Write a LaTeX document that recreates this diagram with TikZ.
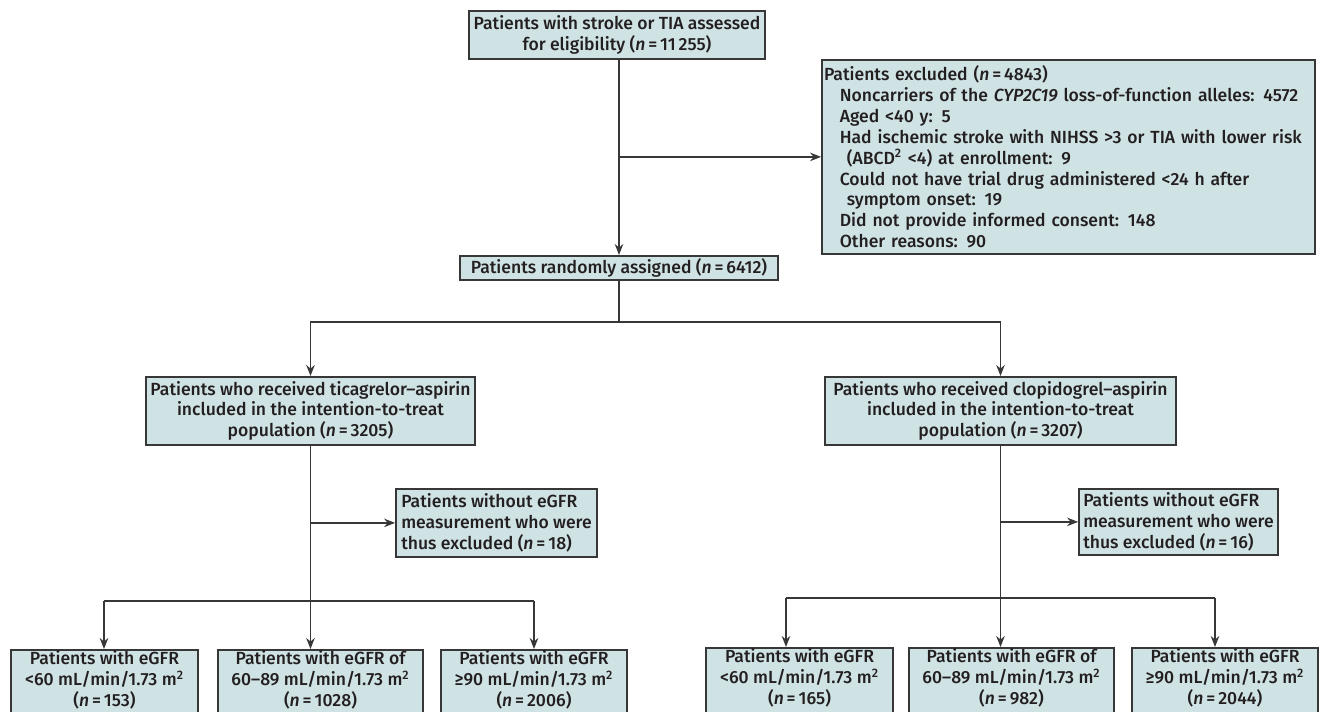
\documentclass[tikz,border=0pt]{standalone}
\usepackage{fontspec}
\setmainfont{Fira Sans}[UprightFont={* Medium}, ItalicFont={* Medium Italic}]
\usetikzlibrary{arrows.meta}
\newlength\pxu
\setlength\pxu{0.02cm}
\definecolor{boxfill}{RGB}{207,226,228}
\definecolor{linegray}{RGB}{55,55,55}
\definecolor{txtgray}{RGB}{35,31,32}
\tikzset{
  flowbox/.style={draw=linegray, fill=boxfill, line width=1pt, anchor=north,
    inner xsep=2\pxu, inner ysep=1\pxu, align=center, text=txtgray,
    font=\fontsize{10}{11.9}\selectfont},
  leftbox/.style={flowbox, align=left},
  grpbox/.style={flowbox, inner ysep=1\pxu, text depth=30\pxu},
  link/.style={draw=linegray, line width=1pt},
  arr/.style={link, -{Stealth[length=0.22cm, width=0.17cm]}}
}
\newcommand{\nn}{\textit{n}\,=\,}
\begin{document}
\begin{tikzpicture}[x=0.02cm, y=-0.02cm]
    \useasboundingbox (0,0) rectangle (1320,711);
    \clip (0,0) rectangle (1320,711);

    % Screening and exclusion
    \node[flowbox, minimum width=296\pxu, minimum height=48\pxu] (screen) at (617,10)
        {Patients with stroke or TIA assessed\\ for eligibility (\nn 11\,255)};
    \node[leftbox, text width=489\pxu, minimum height=194\pxu] (excl) at (1068.5,59)
        {Patients excluded (\nn 4843)\\
         \hspace*{9pt}Noncarriers of the \textit{CYP2C19} loss-of-function alleles: 4572\\
         \hspace*{9pt}Aged <40 y: 5\\
         \hspace*{9pt}Had ischemic stroke with NIHSS >3 or TIA with lower risk\\
         \hspace*{13pt}(ABCD\textsuperscript{2} <4) at enrollment: 9\\
         \hspace*{9pt}Could not have trial drug administered <24 h after\\
         \hspace*{13pt}symptom onset: 19\\
         \hspace*{9pt}Did not provide informed consent: 148\\
         \hspace*{9pt}Other reasons: 90};
    \node[flowbox, minimum width=318\pxu, minimum height=24\pxu] (rand) at (619,255)
        {Patients randomly assigned (\nn 6412)};

    % Treatment arms
    \node[flowbox, minimum width=329\pxu, minimum height=68\pxu] (tica) at (310.5,376)
        {Patients who received ticagrelor–aspirin\\ included in the intention-to-treat\\ population (\nn 3205)};
    \node[flowbox, minimum width=351\pxu, minimum height=68\pxu] (clop) at (1000.5,376)
        {Patients who received clopidogrel–aspirin\\ included in the intention-to-treat\\ population (\nn 3207)};

    % Missing eGFR
    \node[leftbox, minimum width=201\pxu, minimum height=68\pxu] (ticaEx) at (496.5,488)
        {Patients without eGFR\\ measurement who were\\ thus excluded (\nn 18)};
    \node[leftbox, minimum width=199\pxu, minimum height=66\pxu] (clopEx) at (1178.5,488)
        {Patients without eGFR\\ measurement who were\\ thus excluded (\nn 16)};

    % eGFR groups
    \node[grpbox, minimum width=187\pxu] (tica1) at (104.5,649)
        {Patients with eGFR\\ <60 mL/min/1.73 m\textsuperscript{2}\\ (\nn 153)};
    \node[grpbox, minimum width=205\pxu] (tica2) at (320.5,649)
        {Patients with eGFR of\\ 60–89 mL/min/1.73 m\textsuperscript{2}\\ (\nn 1028)};
    \node[grpbox, minimum width=186\pxu] (tica3) at (534,649)
        {Patients with eGFR\\ ≥90 mL/min/1.73 m\textsuperscript{2}\\ (\nn 2006)};
    \node[grpbox, minimum width=187\pxu] (clop1) at (799.5,647)
        {Patients with eGFR\\ <60 mL/min/1.73 m\textsuperscript{2}\\ (\nn 165)};
    \node[grpbox, minimum width=205\pxu] (clop2) at (1011.5,647)
        {Patients with eGFR of\\ 60–89 mL/min/1.73 m\textsuperscript{2}\\ (\nn 982)};
    \node[grpbox, minimum width=186\pxu] (clop3) at (1225,647)
        {Patients with eGFR\\ ≥90 mL/min/1.73 m\textsuperscript{2}\\ (\nn 2044)};

    % Connectors
    \coordinate (exclJoin) at (619,157);
    \draw[arr] (screen.south -| rand.north) -- (rand.north);
    \draw[arr] (exclJoin) -- (excl.west);
    \coordinate (split) at (619,322);
    \draw[link] (rand.south) -- (split);
    \draw[arr] (split) -| (tica.north);
    \draw[arr] (split) -| (clop.north);

    \draw[arr] (tica.south |- ticaEx.west) -- (ticaEx.west);
    \draw[arr] (clop.south |- clopEx.west) -- (clopEx.west);

    \coordinate (ticaL) at (104,601);
    \coordinate (ticaR) at (534,601);
    \coordinate (clopL) at (786,598);
    \coordinate (clopR) at (1215,598);
    \draw[arr] (tica.south) -- (tica.south |- tica2.north);
    \draw[link] (ticaL) -- (ticaR);
    \draw[arr] (ticaL) -- (ticaL |- tica1.north);
    \draw[arr] (ticaR) -- (ticaR |- tica3.north);
    \draw[arr] (clop.south) -- (clop.south |- clop2.north);
    \draw[link] (clopL) -- (clopR);
    \draw[arr] (clopL) -- (clopL |- clop1.north);
    \draw[arr] (clopR) -- (clopR |- clop3.north);
\end{tikzpicture}
\end{document}
